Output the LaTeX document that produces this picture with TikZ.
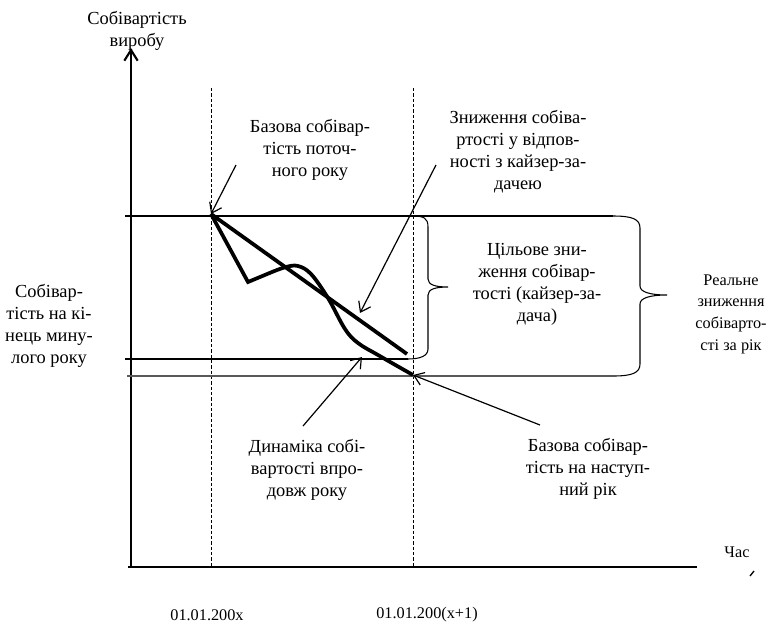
\documentclass[tikz,border=0pt]{standalone}
\usepackage{fontspec}
\setmainfont{Liberation Serif}
\usetikzlibrary{arrows.meta,positioning}
\tikzset{
    vis/.style={line width=1.6pt},
    pryama/.style={line width=0.8pt},
    kryva/.style={line width=2.8pt},
    rysky/.style={line width=0.6pt, dash pattern=on 2.4pt off 1.6pt},
    strilka/.style={-{Straight Barb[length=7pt,width=10pt]}, line width=0.9pt},
    dujka/.style={line width=0.8pt},
    pidpys/.style={
        align=center,
        inner sep=0pt,
        font=\fontsize{13.8}{16.5}\selectfont
    },
    dribnyj/.style={pidpys, font=\fontsize{12.2}{16.2}\selectfont}
}

\begin{document}
\begin{tikzpicture}[x=0.75pt, y=-0.75pt]
    \useasboundingbox (0,0) rectangle (769,626);
    % osi
    \coordinate (O) at (131,567);
    \coordinate (yverh) at (131,48);
    \coordinate (xpoch) at (128,567);
    \coordinate (xkin) at (697,567);
    \draw[vis, -{Straight Barb[length=8pt,width=10pt]}] (O) -- (yverh);
    \draw[vis] (xpoch) -- (xkin);
    \draw[line width=1pt] (750,576) -- (754,571);
    % roky
    \coordinate (rik0v) at (211,88);
    \coordinate (rik0n) at (211,567);
    \coordinate (rik1v) at (413,88);
    \coordinate (rik1n) at (413,567);
    \draw[rysky] (rik0v) -- (rik0n);
    \draw[rysky] (rik1v) -- (rik1n);
    % rivni
    \coordinate (bazaL) at (125,216);
    \coordinate (bazaP) at (613,216);
    \coordinate (cilL) at (125,359);
    \coordinate (cilP) at (408,359);
    \coordinate (realL) at (127,376);
    \coordinate (realP) at (613,376);
    \draw[pryama] (bazaL) -- (bazaP);
    \draw[pryama] (cilL) -- (cilP);
    \draw[pryama, gray!70!black] (realL) -- (realP);
    % dujky
    \draw[dujka] (412,216) .. controls (424,216) and (428,218) .. (428,227)
        -- (428,279) .. controls (428,285) and (436,287) .. (448,287)
        .. controls (436,287) and (428,289) .. (428,295)
        -- (428,349) .. controls (428,356) and (420,359) .. (cilP);
    \draw[dujka] (bazaP) .. controls (632,216) and (640,219) .. (640,228)
        -- (640,286) .. controls (640,292) and (650,295) .. (667,295)
        .. controls (650,295) and (640,298) .. (640,304)
        -- (640,364) .. controls (640,373) and (632,376) .. (realP);
    % kryvi
    \coordinate (start) at (211,214);
    \coordinate (plan) at (407,354);
    \coordinate (fakt) at (413,375);
    \draw[kryva] (start) -- (plan);
    \draw[kryva, line join=miter] (start) -- (248,282) -- (272,272)
        plot[smooth, tension=0.6] coordinates {(272,272) (286,267) (298,266) (311,274) (328,298) (345,329) (358,343) (378,355) (fakt)};
    % pidpysy
    \node[pidpys] (osY) at (137,31) {Собівартість\\виробу};
    \node[dribnyj] (osX) at (737,552) {Час};
    \node[dribnyj] (data0) at (207,615) {01.01.200x};
    \node[dribnyj] (data1) at (427,615) {01.01.200(x+1)};
    \node[pidpys] (bazova) at (310,150) {Базова собівар-\\тість поточ-\\ного року};
    \node[pidpys] (kajzer) at (518,152) {Зниження собіва-\\ртості у відпов-\\ності з кайзер-за-\\дачею};
    \node[pidpys] (cil) at (537,284) {Цільове зни-\\ження собівар-\\тості (кайзер-за-\\дача)};
    \node[dribnyj] (realne) at (731,314) {Реальне\\зниження\\собіварто-\\сті за рік};
    \node[pidpys] (mynulyj) at (49,326) {Собівар-\\тість на кі-\\нець мину-\\лого року};
    \node[pidpys] (dynamika) at (307,470) {Динаміка собі-\\вартості впро-\\довж року};
    \node[pidpys] (nastupnyj) at (588,469) {Базова собівар-\\тість на наступ-\\ний рік};
    % strilky
    \coordinate (s1) at (236,165);
    \coordinate (s2) at (436,165);
    \coordinate (s2k) at (360,313);
    \coordinate (s3) at (303,426);
    \coordinate (s3k) at (362,357);
    \coordinate (s4) at (540,425);
    \draw[strilka] (s1) -- (start);
    \draw[strilka] (s2) -- (s2k);
    \draw[strilka] (s3) -- (s3k);
    \draw[strilka] (s4) -- (fakt);
\end{tikzpicture}
\end{document}
